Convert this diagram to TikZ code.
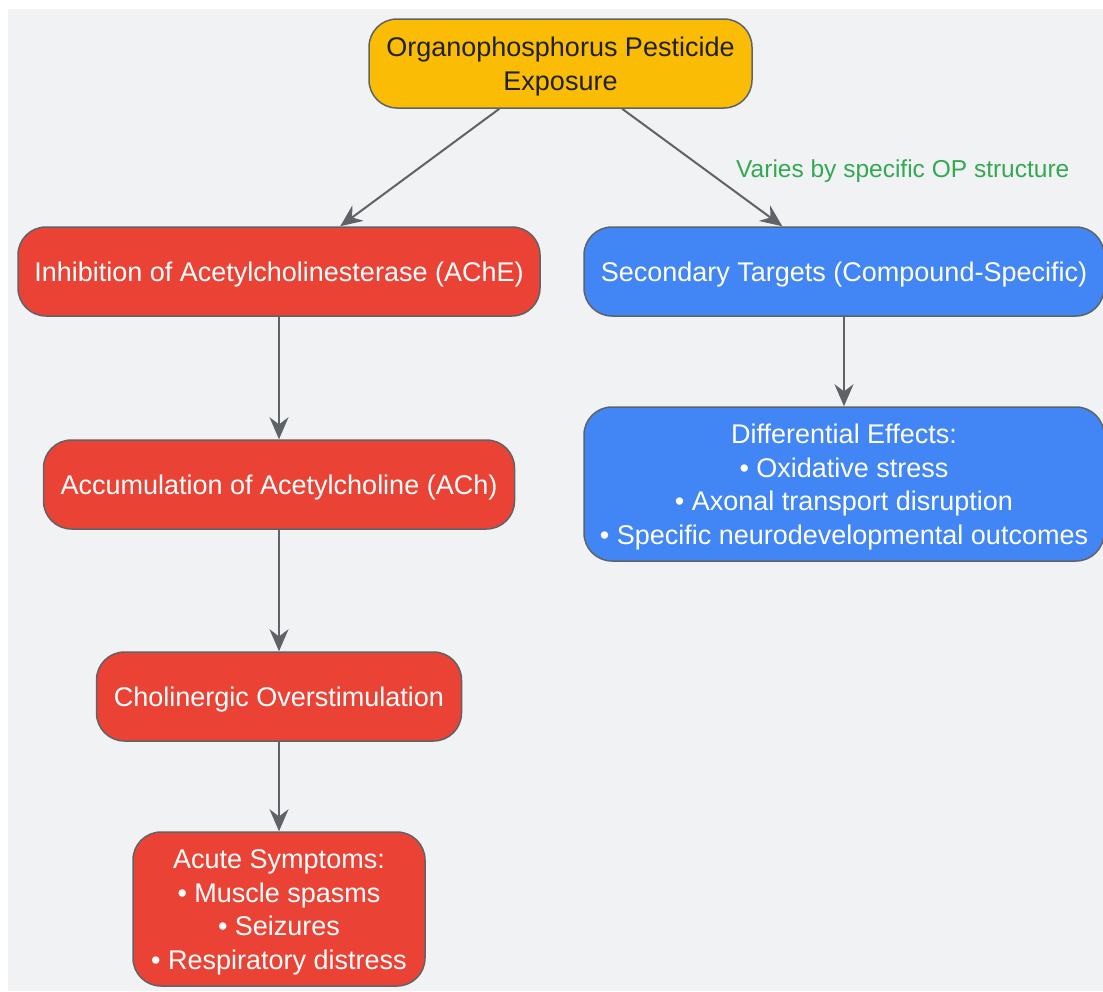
\documentclass[tikz,border=0pt]{standalone}
\usepackage{fontspec}
\setmainfont{Liberation Sans}
\usetikzlibrary{positioning,
                arrows.meta}
\definecolor{opyellow}{HTML}{FBBC05}
\definecolor{opred}{HTML}{EA4335}
\definecolor{opblue}{HTML}{4285F4}
\definecolor{opgreen}{HTML}{34A853}
\definecolor{opgray}{HTML}{5F6368}
\definecolor{opdark}{HTML}{202124}
\definecolor{opback}{HTML}{F1F2F4}
\newcommand{\boxstrut}{\rule{0pt}{26pt}}
\tikzset{
         box/.style={draw=opgray, line width=1.5pt, rounded corners=28pt,
                     align=center, inner sep=0pt, minimum height=89pt,
                     font=\fontsize{27}{33.5}\selectfont},
         redbox/.style={box, fill=opred, text=white},
         bluebox/.style={box, fill=opblue, text=white},
         myarrow/.style={-{Stealth[length=22pt, width=19pt]}, draw=opgray, line width=2pt},
}

\begin{document}
\begin{tikzpicture}[x=1pt, y=-1pt]
    % Hintergrund
    \useasboundingbox (0,0) rectangle (1103,991);
    \fill[white] (0,0) rectangle (1103,991);
    \fill[opback] (8,9) rectangle (1103,991);

    % Exposition
    \node[box, fill=opyellow, text=opdark, minimum width=383pt] at (560.5,63.5) (op)
         {\boxstrut Organophosphorus Pesticide\\Exposure};

    % AChE-Pfad
    \node[redbox, minimum width=522pt] at (279,271.5) (ache)
         {\boxstrut Inhibition of Acetylcholinesterase (AChE)};
    \node[redbox, minimum width=471pt, below=122.5pt of ache] (ach)
         {\boxstrut Accumulation of Acetylcholine (ACh)};
    \node[redbox, minimum width=365pt, below=121.5pt of ach] (chol)
         {\boxstrut Cholinergic Overstimulation};
    \node[redbox, minimum width=292pt, minimum height=154pt,
          below=89.5pt of chol] (acute)
         {\boxstrut Acute Symptoms:\\• Muscle spasms\\• Seizures\\• Respiratory distress};

    % Sekundaere Ziele
    \node[bluebox, minimum width=520pt] at (844,271.5) (sec)
         {\boxstrut Secondary Targets (Compound-Specific)};
    \node[bluebox, minimum width=520pt, minimum height=154pt,
          below=89.5pt of sec] (diff)
         {\boxstrut Differential Effects:\\• Oxidative stress\\• Axonal transport disruption\\• Specific neurodevelopmental outcomes};

    % Pfeile
    \draw[myarrow] (op) -- (ache);
    \draw[myarrow] (op) -- node[right=33pt, yshift=-4pt, inner sep=0pt, text=opgreen,
                                font=\fontsize{24.5}{28}\selectfont]
                                (vary) {Varies by specific OP structure} (sec);
    \draw[myarrow] (ache) -- (ach);
    \draw[myarrow] (ach) -- (chol);
    \draw[myarrow] (chol) -- (acute);
    \draw[myarrow] (sec) -- (diff);
\end{tikzpicture}
\end{document}
